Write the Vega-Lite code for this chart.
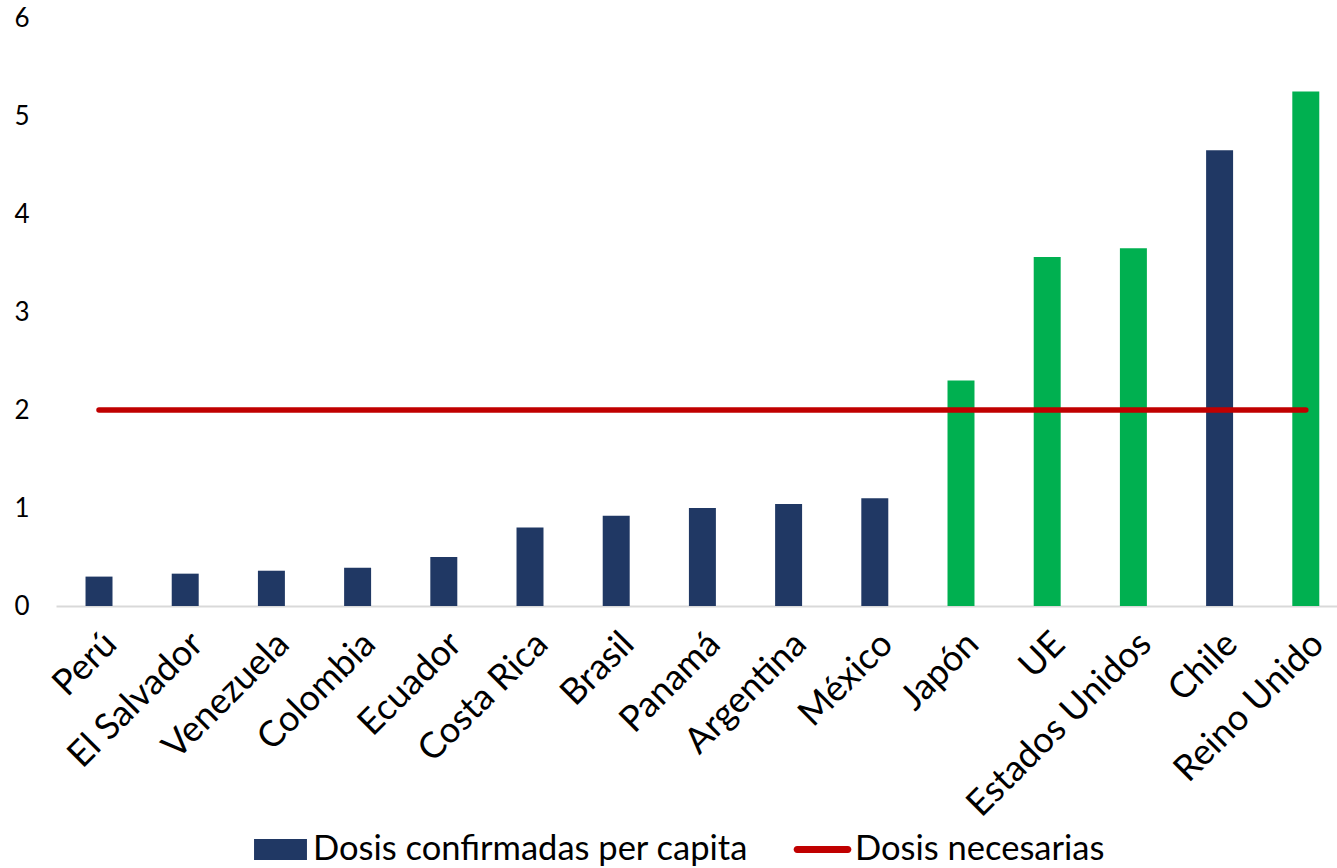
{
  "$schema": "https://vega.github.io/schema/vega-lite/v6.json",
  "width": 1281,
  "height": 588,
  "autosize": {"type": "none"},
  "padding": {"left": 56, "top": 18, "right": 0, "bottom": 262},
  "background": "white",
  "config": {
    "view": {"stroke": null},
    "font": "Lato",
    "axis": {"labelFont": "Lato", "labelColor": "#000000", "grid": false, "ticks": false}
  },
  "data": {
    "values": [
      {"pais": "Perú", "dosis": 0.30, "grupo": "latam", "serie": "Dosis confirmadas per capita", "necesarias": 2},
      {"pais": "El Salvador", "dosis": 0.33, "grupo": "latam", "serie": "Dosis confirmadas per capita", "necesarias": 2},
      {"pais": "Venezuela", "dosis": 0.36, "grupo": "latam", "serie": "Dosis confirmadas per capita", "necesarias": 2},
      {"pais": "Colombia", "dosis": 0.39, "grupo": "latam", "serie": "Dosis confirmadas per capita", "necesarias": 2},
      {"pais": "Ecuador", "dosis": 0.50, "grupo": "latam", "serie": "Dosis confirmadas per capita", "necesarias": 2},
      {"pais": "Costa Rica", "dosis": 0.80, "grupo": "latam", "serie": "Dosis confirmadas per capita", "necesarias": 2},
      {"pais": "Brasil", "dosis": 0.92, "grupo": "latam", "serie": "Dosis confirmadas per capita", "necesarias": 2},
      {"pais": "Panamá", "dosis": 1.00, "grupo": "latam", "serie": "Dosis confirmadas per capita", "necesarias": 2},
      {"pais": "Argentina", "dosis": 1.04, "grupo": "latam", "serie": "Dosis confirmadas per capita", "necesarias": 2},
      {"pais": "México", "dosis": 1.10, "grupo": "latam", "serie": "Dosis confirmadas per capita", "necesarias": 2},
      {"pais": "Japón", "dosis": 2.30, "grupo": "avanzado", "serie": "Dosis confirmadas per capita", "necesarias": 2},
      {"pais": "UE", "dosis": 3.56, "grupo": "avanzado", "serie": "Dosis confirmadas per capita", "necesarias": 2},
      {"pais": "Estados Unidos", "dosis": 3.65, "grupo": "avanzado", "serie": "Dosis confirmadas per capita", "necesarias": 2},
      {"pais": "Chile", "dosis": 4.65, "grupo": "latam", "serie": "Dosis confirmadas per capita", "necesarias": 2},
      {"pais": "Reino Unido", "dosis": 5.25, "grupo": "avanzado", "serie": "Dosis confirmadas per capita", "necesarias": 2}
    ]
  },
  "encoding": {
    "x": {
      "field": "pais",
      "type": "nominal",
      "sort": null,
      "title": null,
      "scale": {"paddingInner": 0.687, "paddingOuter": 0.274, "align": 0.625},
      "axis": {
        "labelAngle": -45,
        "labelFontSize": 36,
        "labelPadding": 20,
        "labelLimit": 400,
        "domainColor": "#D9D9D9",
        "domainWidth": 2
      }
    }
  },
  "layer": [
    {
      "mark": {"type": "bar"},
      "encoding": {
        "y": {
          "field": "dosis",
          "type": "quantitative",
          "title": null,
          "scale": {"domain": [0, 6], "nice": false},
          "axis": {"values": [0, 1, 2, 3, 4, 5, 6], "format": "d", "domain": false, "labelFontSize": 26, "labelPadding": 27}
        },
        "color": {
          "condition": {"test": "datum.grupo === 'avanzado'", "value": "#00B050"},
          "field": "serie",
          "type": "nominal",
          "scale": {"domain": ["Dosis confirmadas per capita", "Dosis necesarias"], "range": ["#203864", "#C00000"]},
          "legend": {
            "title": null,
            "orient": "none",
            "direction": "horizontal",
            "legendX": 198,
            "legendY": 805,
            "labelFontSize": 34.5,
            "labelFont": "Lato",
            "labelColor": "#000000",
            "symbolSize": 2800,
            "symbolType": "square",
            "symbolStrokeWidth": 0,
            "labelOffset": 6,
            "columnPadding": 44,
            "labelLimit": 600,
            "encode": {
              "symbols": {
                "update": {
                  "shape": {"signal": "datum.value === 'Dosis necesarias' ? 'M-0.96,-0.13H0.96A0.13,0.13 0 0 1 0.96,0.13H-0.96A0.13,0.13 0 0 1 -0.96,-0.13Z' : 'M-1,-0.4H1V0.4H-1Z'"},
                  "fill": {"signal": "datum.value === 'Dosis necesarias' ? '#C00000' : '#203864'"},
                  "strokeWidth": {"value": 0},
                  "opacity": {"value": 1}
                }
              }
            }
          }
        }
      }
    },
    {
      "mark": {"type": "line", "strokeWidth": 5.5, "strokeCap": "round", "color": "#C00000"},
      "encoding": {
        "y": {"field": "necesarias", "type": "quantitative"},
        "color": {"datum": "Dosis necesarias"}
      }
    }
  ]
}
